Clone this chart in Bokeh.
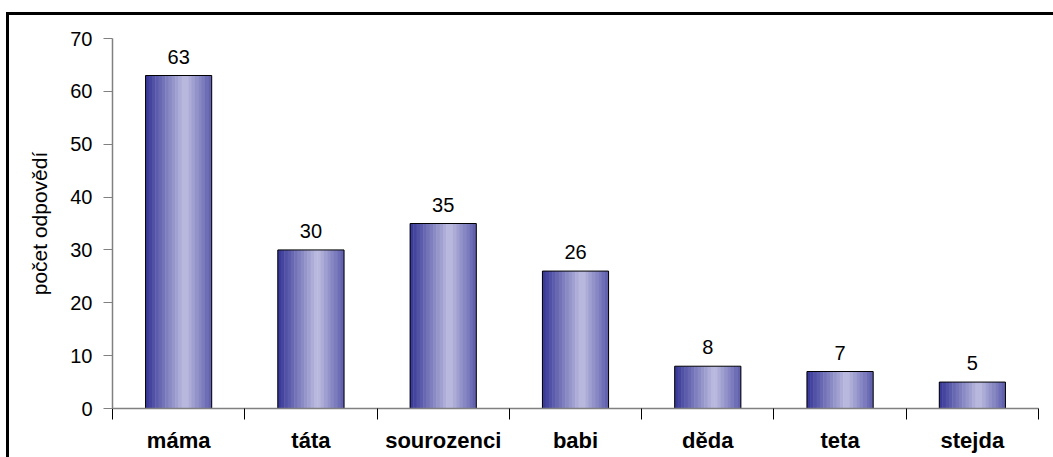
import numpy as np
from bokeh.plotting import figure
from bokeh.models import Range1d, FixedTicker, CustomJSTickFormatter
from bokeh.core.properties import value
from bokeh.embed import file_html
from bokeh.resources import INLINE

# ---- data ----
categories = ["máma", "táta", "sourozenci", "babi", "děda", "teta", "stejda"]
counts = [63, 30, 35, 26, 8, 7, 5]
y_ticks = [0, 10, 20, 30, 40, 50, 60, 70]
y_label = "počet odpovědí"

FONT = "Liberation Sans"
BAR_W = 0.5
N_STRIPES = 20

p = figure(width=1053, height=457, output_backend="svg", toolbar_location=None,
           x_range=Range1d(0, len(categories)), y_range=Range1d(0, 70),
           min_border_left=112, min_border_right=15, min_border_top=38,
           min_border_bottom=49)
# chart-area border (top and left edges) drawn as a CSS background behind the transparent border area
p.styles = {"background": "linear-gradient(#000,#000) 6px 12px / 100% 3px no-repeat, "
                          "linear-gradient(#000,#000) 6px 12px / 3px 100% no-repeat, #fff"}
p.outline_line_color = None
p.xgrid.visible = False
p.ygrid.visible = False
p.background_fill_color = "white"
p.border_fill_alpha = 0

def lerp(c1, c2, t):
    return tuple(int(round(a + (b - a) * t)) for a, b in zip(c1, c2))

left_c = (52, 52, 150)
peak_c = (190, 190, 225)
right_c = (92, 92, 172)
peak_pos = 0.6
stripe_cols = []
for k in range(N_STRIPES):
    t = (k + 0.5) / N_STRIPES
    if t <= peak_pos:
        c = lerp(left_c, peak_c, t / peak_pos)
    else:
        c = lerp(peak_c, right_c, (t - peak_pos) / (1 - peak_pos))
    stripe_cols.append("#%02x%02x%02x" % c)

centers = np.arange(len(categories)) + 0.5
sx, stop, scol = [], [], []
for i, c in enumerate(counts):
    for k in range(N_STRIPES):
        sx.append(centers[i] - BAR_W / 2 + (k + 0.5) * BAR_W / N_STRIPES)
        stop.append(c)
        scol.append(stripe_cols[k])

p.vbar(x=sx, top=stop, bottom=0, width=BAR_W / N_STRIPES * 1.15,
       fill_color=scol, line_color=None)
p.vbar(x=centers, top=counts, bottom=0, width=BAR_W, fill_color=None,
       line_color="black", line_width=1)

p.text(x=centers, y=counts, text=[str(c) for c in counts],
       text_align="center", text_baseline="alphabetic", y_offset=-19,
       text_font=value(FONT), text_font_size="20px", text_color="black")

# x axis
xa = p.xaxis[0]
xa.axis_label = None
xa.ticker = FixedTicker(ticks=list(centers), minor_ticks=list(range(len(categories) + 1)))
xa.formatter = CustomJSTickFormatter(args=dict(labels=categories),
                                     code="return labels[Math.floor(tick)] || '';")
xa.major_tick_line_color = None
xa.major_tick_in = 0
xa.major_tick_out = 0
xa.minor_tick_in = 0
xa.minor_tick_out = 11
xa.minor_tick_line_color = "black"
xa.axis_line_color = "#808080"
xa.axis_line_width = 1.5
xa.major_label_standoff = 8
xa.major_label_text_font = FONT
xa.major_label_text_font_style = "bold"
xa.major_label_text_font_size = "22px"
xa.major_label_text_color = "black"

# y axis
ya = p.yaxis[0]
ya.ticker = FixedTicker(ticks=y_ticks, minor_ticks=[])
ya.major_tick_in = 0
ya.major_tick_out = 9
ya.major_tick_line_color = "#808080"
ya.axis_line_color = "#808080"
ya.axis_line_width = 1.5
ya.major_label_standoff = 11
ya.major_label_text_font = FONT
ya.major_label_text_font_size = "20px"
ya.major_label_text_color = "black"
ya.axis_label = y_label
ya.axis_label_text_font = FONT
ya.axis_label_text_font_style = "normal"
ya.axis_label_text_font_size = "21px"
ya.axis_label_text_color = "black"
ya.axis_label_standoff = 16

open("out.html", "w").write(file_html(p, INLINE))
